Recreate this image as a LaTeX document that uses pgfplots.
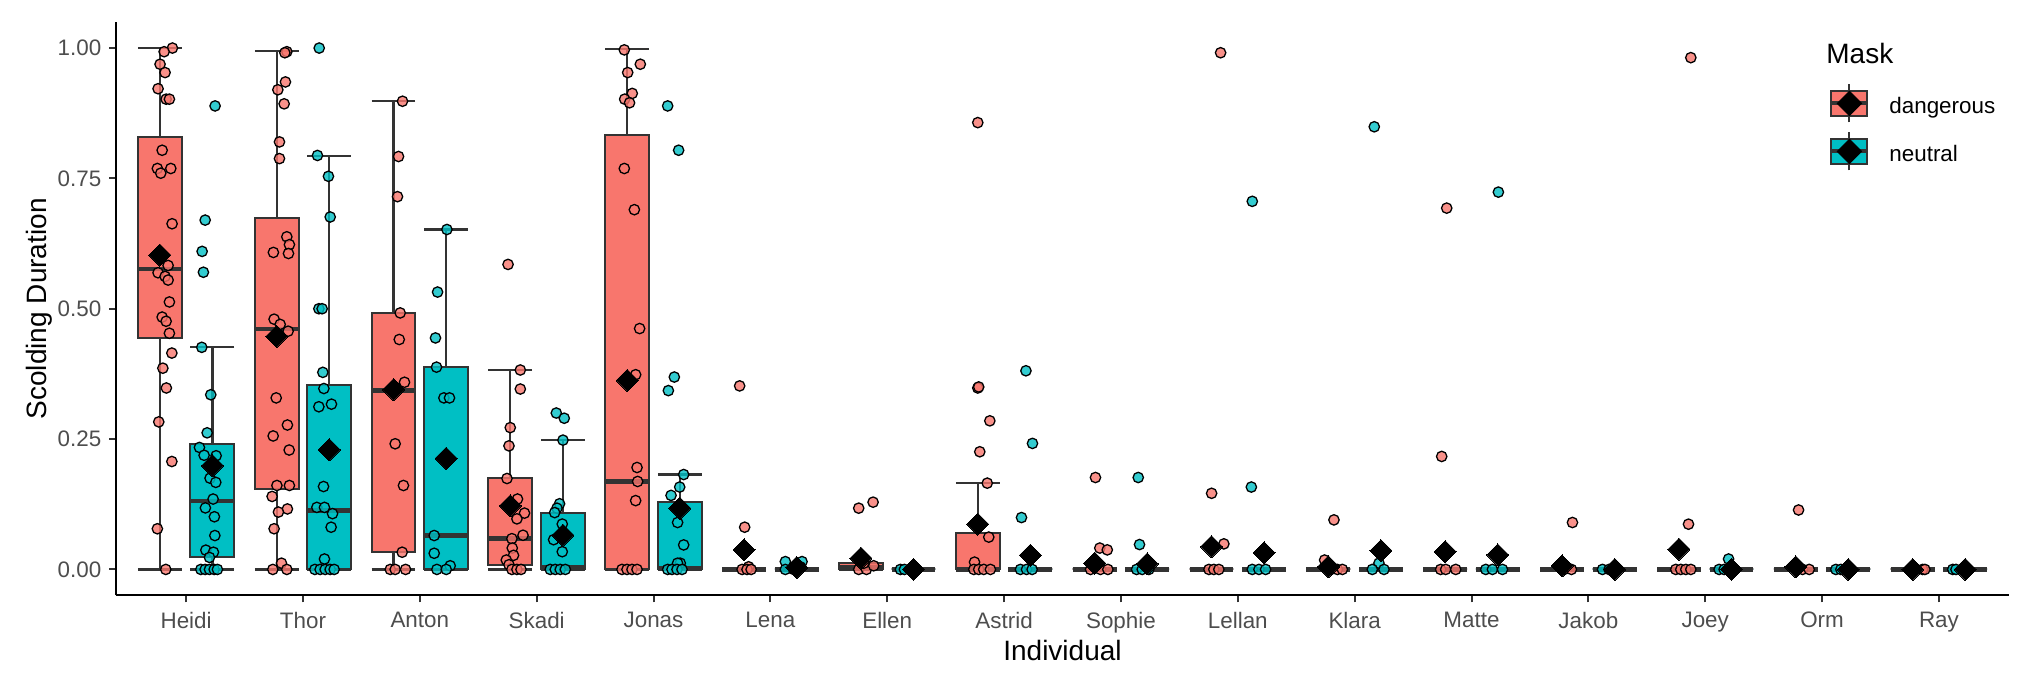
\documentclass[border=0pt]{standalone}
\usepackage{fontspec}
\setmainfont{Liberation Sans}
\usepackage{pgfplots}
\usepackage{pgfplotstable}
\pgfplotsset{compat=1.18}
\usepgfplotslibrary{statistics}
\definecolor{dang}{HTML}{F8766D}
\definecolor{neut}{HTML}{00BFC4}
\definecolor{g20}{HTML}{333333}
\definecolor{g30}{HTML}{4D4D4D}

\pgfplotstableread{
x y
0.883 1.000
0.812 0.993
0.777 0.969
0.820 0.953
0.760 0.922
0.829 0.902
0.857 0.902
0.795 0.804
0.754 0.769
0.783 0.760
0.869 0.769
0.880 0.663
0.846 0.583
0.760 0.569
0.820 0.562
0.846 0.555
0.857 0.513
0.795 0.484
0.829 0.476
0.857 0.453
0.878 0.415
0.801 0.386
0.831 0.348
0.766 0.283
0.878 0.207
0.754 0.078
0.826 0
1.862 0.993
1.845 0.991
1.850 0.935
1.785 0.920
1.839 0.893
1.799 0.820
1.799 0.788
1.862 0.638
1.884 0.623
1.747 0.608
1.876 0.606
1.753 0.480
1.805 0.470
1.873 0.457
1.771 0.329
1.867 0.277
1.745 0.256
1.882 0.229
1.777 0.161
1.884 0.161
1.736 0.140
1.867 0.116
1.790 0.110
1.753 0.078
1.816 0.012
1.742 0
1.862 0
2.852 0.898
2.818 0.792
2.809 0.715
2.832 0.492
2.824 0.441
2.869 0.359
2.789 0.241
2.860 0.161
2.849 0.033
2.747 0
2.789 0
2.878 0
3.755 0.585
3.860 0.3825
3.860 0.346
3.774 0.272
3.763 0.237
3.746 0.1744
3.836 0.135
3.896 0.108
3.831 0.097
3.883 0.0656
3.788 0.059
3.791 0.041
3.802 0.027
3.740 0.018
3.763 0.009
3.788 0
3.831 0
3.866 0
4.750 0.9965
4.887 0.969
4.779 0.953
4.818 0.913
4.753 0.902
4.795 0.895
4.750 0.769
4.836 0.690
4.881 0.462
4.847 0.3735
4.859 0.1955
4.864 0.1687
4.847 0.132
4.730 0
4.773 0
4.816 0
4.859 0
5.737 0.352
5.780 0.081
5.814 0.005
5.758 0
5.800 0
5.835 0
6.756 0.1175
6.879 0.129
6.756 0
6.822 0
6.884 0.007
6.800 0.012
7.775 0.857
7.775 0.348
7.783 0.350
7.878 0.285
7.792 0.2257
7.856 0.1655
7.869 0.062
7.747 0.014
7.741 0
7.783 0
7.826 0
7.883 0
8.782 0.1763
8.819 0.041
8.883 0.0375
8.740 0
8.825 0
8.888 0
9.853 0.991
9.776 0.146
9.881 0.049
9.753 0
9.795 0
9.838 0
10.823 0.095
10.743 0.018
10.795 0
10.852 0
10.895 0
11.788 0.693
11.745 0.2167
11.736 0
11.779 0
11.865 0
12.864 0.090
12.792 0
12.855 0
13.877 0.9816
13.857 0.0868
13.748 0
13.791 0
13.834 0
13.877 0
14.799 0.114
14.833 0
14.890 0
15.860 0
15.880 0
}\dangpts

\pgfplotstableread{
x y
1.248 0.889
1.163 0.670
1.137 0.610
1.148 0.570
1.134 0.426
1.211 0.335
1.180 0.262
1.114 0.234
1.154 0.219
1.257 0.218
1.205 0.175
1.254 0.167
1.231 0.135
1.165 0.118
1.242 0.101
1.246 0.065
1.169 0.037
1.234 0.033
1.200 0.023
1.126 0
1.163 0
1.200 0
1.240 0
1.268 0
2.139 1.000
2.124 0.794
2.218 0.754
2.233 0.676
2.136 0.500
2.164 0.500
2.170 0.378
2.179 0.347
2.136 0.312
2.244 0.317
2.176 0.159
2.119 0.119
2.184 0.119
2.253 0.107
2.241 0.081
2.184 0.020
2.102 0
2.147 0
2.190 0
2.233 0
2.267 0
3.232 0.652
3.152 0.532
3.134 0.444
3.143 0.388
3.206 0.329
3.254 0.329
3.123 0.065
3.123 0.031
3.260 0.007
3.146 0
3.226 0
4.168 0.300
4.236 0.290
4.225 0.248
4.196 0.126
4.174 0.1175
4.154 0.109
4.219 0.087
4.145 0.057
4.219 0.034
4.116 0
4.159 0
4.202 0
4.245 0
5.121 0.889
5.215 0.804
5.178 0.369
5.127 0.343
5.258 0.182
5.224 0.158
5.150 0.142
5.206 0.090
5.258 0.047
5.229 0.012
5.206 0.012
5.121 0
5.158 0
5.201 0
5.244 0
6.128 0.015
6.271 0.015
6.257 0.005
6.128 0
6.199 0
7.113 0
7.147 0
8.187 0.381
8.243 0.2417
8.149 0.0995
8.140 0
8.192 0
8.240 0
9.148 0.1763
9.159 0.0477
9.134 0
9.182 0
9.239 0
10.124 0.706
10.116 0.158
10.124 0
10.181 0
10.238 0
11.168 0.849
11.208 0.012
11.151 0
11.251 0
12.230 0.7237
12.122 0
12.179 0
12.265 0
13.121 0
13.177 0
14.200 0.020
14.119 0
14.162 0
15.118 0
15.161 0
16.118 0
16.146 0
}\neutpts

\pgfplotstableread{
x y
0.775 0.603
1.225 0.199
1.775 0.447
2.225 0.2295
2.775 0.345
3.225 0.213
3.775 0.122
4.225 0.0656
4.775 0.3627
5.225 0.1175
5.775 0.0375
6.225 0.0035
6.775 0.0215
7.225 0
7.775 0.0868
8.225 0.027
8.775 0.012
9.225 0.0106
9.775 0.0438
10.225 0.032
10.775 0.005
11.225 0.036
11.775 0.034
12.225 0.028
12.775 0.0067
13.225 0
13.775 0.0388
14.225 0
14.775 0.005
15.225 0
15.775 0
16.225 0
}\meanpts

\pgfplotsset{
  bx/.style={draw=g20, fill=#1, line width=1pt,
    boxplot/draw direction=y,
    boxplot/box extend=0.375, boxplot/whisker extend=0.375,
    boxplot/every median/.style={line width=2.3pt},
    boxplot/every whisker/.style={line width=1.1pt}},
  legkey/.style={legend image code/.code={
    \draw[g20, line width=1pt] (9pt,-7.8pt) -- (9pt,11.2pt);
    \draw[g20, line width=1pt, fill=#1] (0pt,-4.4pt) rectangle (18pt,7.8pt);
    \draw[g20, line width=2pt] (0pt,1.7pt) -- (18pt,1.7pt);
    \fill[black] (9pt,-4.4pt) -- (15.1pt,1.7pt) -- (9pt,7.8pt) -- (2.9pt,1.7pt) -- cycle;
  }}
}

\begin{document}
\begin{tikzpicture}
\useasboundingbox (-58pt,-43.75pt) rectangle (958pt,297.75pt);
\begin{axis}[
  scale only axis, width=946.5pt, height=286.75pt,
  xmin=0.4, xmax=16.6, ymin=-0.05, ymax=1.05,
  clip=false,
  axis x line*=bottom, axis y line*=left,
  axis line style={black, line width=1pt, -},
  xtick={1,...,16},
  xticklabels={Heidi,Thor,Anton,Skadi,Jonas,Lena,Ellen,Astrid,Sophie,Lellan,Klara,Matte,Jakob,Joey,Orm,Ray},
  ytick={0,0.25,0.5,0.75,1},
  yticklabels={0.00,0.25,0.50,0.75,1.00},
  tick align=outside, major tick length=3.5pt,
  tick style={g20, line width=1pt},
  tick label style={font=\fontsize{11.2}{13}\selectfont, text=g30},
  xticklabel style={inner sep=0pt, anchor=north, yshift=-4.6pt},
  yticklabel style={inner sep=0pt, anchor=east, xshift=-3.65pt},
  xlabel={Individual}, ylabel={Scolding Duration},
  label style={font=\fontsize{14}{17}\selectfont},
  xlabel style={at={([yshift=-22.25pt]axis description cs:0.5,0)}, anchor=north, inner sep=0pt},
  ylabel style={at={([xshift=-34.5pt]axis description cs:0,0.5)}, anchor=base, inner sep=0pt},
  legend style={at={(axis description cs:0.9049,0.8936)}, anchor=north west,
    draw=none, fill=none, inner sep=0pt, row sep=4pt, column sep=10pt,
    font=\fontsize{11.2}{13}\selectfont, nodes={inner sep=0pt}},
  legend cell align=left,
]
\addlegendimage{legkey=dang}\addlegendentry{dangerous}
\addlegendimage{legkey=neut}\addlegendentry{neutral}

\addplot[bx=dang, boxplot prepared={draw position=0.775, lower whisker=0, lower quartile=0.443, median=0.576, upper quartile=0.830, upper whisker=1.0}] coordinates {};
\addplot[bx=neut, boxplot prepared={draw position=1.225, lower whisker=0, lower quartile=0.024, median=0.1316, upper quartile=0.240, upper whisker=0.426}] coordinates {};
\addplot[bx=dang, boxplot prepared={draw position=1.775, lower whisker=0, lower quartile=0.1546, median=0.461, upper quartile=0.674, upper whisker=0.994}] coordinates {};
\addplot[bx=neut, boxplot prepared={draw position=2.225, lower whisker=0, lower quartile=0, median=0.113, upper quartile=0.354, upper whisker=0.7935}] coordinates {};
\addplot[bx=dang, boxplot prepared={draw position=2.775, lower whisker=0, lower quartile=0.033, median=0.3434, upper quartile=0.492, upper whisker=0.898}] coordinates {};
\addplot[bx=neut, boxplot prepared={draw position=3.225, lower whisker=0, lower quartile=0, median=0.0656, upper quartile=0.388, upper whisker=0.652}] coordinates {};
\addplot[bx=dang, boxplot prepared={draw position=3.775, lower whisker=0, lower quartile=0.008, median=0.059, upper quartile=0.1744, upper whisker=0.3825}] coordinates {};
\addplot[bx=neut, boxplot prepared={draw position=4.225, lower whisker=0, lower quartile=0, median=0.005, upper quartile=0.108, upper whisker=0.248}] coordinates {};
\addplot[bx=dang, boxplot prepared={draw position=4.775, lower whisker=0, lower quartile=0, median=0.1687, upper quartile=0.833, upper whisker=0.998}] coordinates {};
\addplot[bx=neut, boxplot prepared={draw position=5.225, lower whisker=0, lower quartile=0, median=0.002, upper quartile=0.1296, upper whisker=0.182}] coordinates {};
\addplot[bx=dang, boxplot prepared={draw position=5.775, lower whisker=0, lower quartile=0, median=0, upper quartile=0, upper whisker=0}] coordinates {};
\addplot[bx=neut, boxplot prepared={draw position=6.225, lower whisker=0, lower quartile=0, median=0, upper quartile=0, upper whisker=0}] coordinates {};
\addplot[bx=dang, boxplot prepared={draw position=6.775, lower whisker=0, lower quartile=0, median=0.005, upper quartile=0.012, upper whisker=0.012}] coordinates {};
\addplot[bx=neut, boxplot prepared={draw position=7.225, lower whisker=0, lower quartile=0, median=0, upper quartile=0, upper whisker=0}] coordinates {};
\addplot[bx=dang, boxplot prepared={draw position=7.775, lower whisker=0, lower quartile=0, median=0, upper quartile=0.0695, upper whisker=0.1655}] coordinates {};
\addplot[bx=neut, boxplot prepared={draw position=8.225, lower whisker=0, lower quartile=0, median=0, upper quartile=0, upper whisker=0}] coordinates {};
\addplot[bx=dang, boxplot prepared={draw position=8.775, lower whisker=0, lower quartile=0, median=0, upper quartile=0, upper whisker=0}] coordinates {};
\addplot[bx=neut, boxplot prepared={draw position=9.225, lower whisker=0, lower quartile=0, median=0, upper quartile=0, upper whisker=0}] coordinates {};
\addplot[bx=dang, boxplot prepared={draw position=9.775, lower whisker=0, lower quartile=0, median=0, upper quartile=0, upper whisker=0}] coordinates {};
\addplot[bx=neut, boxplot prepared={draw position=10.225, lower whisker=0, lower quartile=0, median=0, upper quartile=0, upper whisker=0}] coordinates {};
\addplot[bx=dang, boxplot prepared={draw position=10.775, lower whisker=0, lower quartile=0, median=0, upper quartile=0, upper whisker=0}] coordinates {};
\addplot[bx=neut, boxplot prepared={draw position=11.225, lower whisker=0, lower quartile=0, median=0, upper quartile=0, upper whisker=0}] coordinates {};
\addplot[bx=dang, boxplot prepared={draw position=11.775, lower whisker=0, lower quartile=0, median=0, upper quartile=0, upper whisker=0}] coordinates {};
\addplot[bx=neut, boxplot prepared={draw position=12.225, lower whisker=0, lower quartile=0, median=0, upper quartile=0, upper whisker=0}] coordinates {};
\addplot[bx=dang, boxplot prepared={draw position=12.775, lower whisker=0, lower quartile=0, median=0, upper quartile=0, upper whisker=0}] coordinates {};
\addplot[bx=neut, boxplot prepared={draw position=13.225, lower whisker=0, lower quartile=0, median=0, upper quartile=0, upper whisker=0}] coordinates {};
\addplot[bx=dang, boxplot prepared={draw position=13.775, lower whisker=0, lower quartile=0, median=0, upper quartile=0, upper whisker=0}] coordinates {};
\addplot[bx=neut, boxplot prepared={draw position=14.225, lower whisker=0, lower quartile=0, median=0, upper quartile=0, upper whisker=0}] coordinates {};
\addplot[bx=dang, boxplot prepared={draw position=14.775, lower whisker=0, lower quartile=0, median=0, upper quartile=0, upper whisker=0}] coordinates {};
\addplot[bx=neut, boxplot prepared={draw position=15.225, lower whisker=0, lower quartile=0, median=0, upper quartile=0, upper whisker=0}] coordinates {};
\addplot[bx=dang, boxplot prepared={draw position=15.775, lower whisker=0, lower quartile=0, median=0, upper quartile=0, upper whisker=0}] coordinates {};
\addplot[bx=neut, boxplot prepared={draw position=16.225, lower whisker=0, lower quartile=0, median=0, upper quartile=0, upper whisker=0}] coordinates {};

\addplot[only marks, mark=*, mark size=2.6pt, mark options={draw=black, fill=dang, fill opacity=0.8, line width=0.65pt}] table[x=x, y=y] {\dangpts};
\addplot[only marks, mark=*, mark size=2.6pt, mark options={draw=black, fill=neut, fill opacity=0.8, line width=0.65pt}] table[x=x, y=y] {\neutpts};

\addplot[only marks, mark=square*, mark size=3.9pt, mark options={rotate=45, fill=black, draw=black, line width=0pt}] table[x=x, y=y] {\meanpts};

\node[anchor=base west, inner sep=0pt, font=\fontsize{14}{17}\selectfont] at (axis description cs:0.9033,0.9268) {Mask};
\end{axis}
\end{tikzpicture}
\end{document}
